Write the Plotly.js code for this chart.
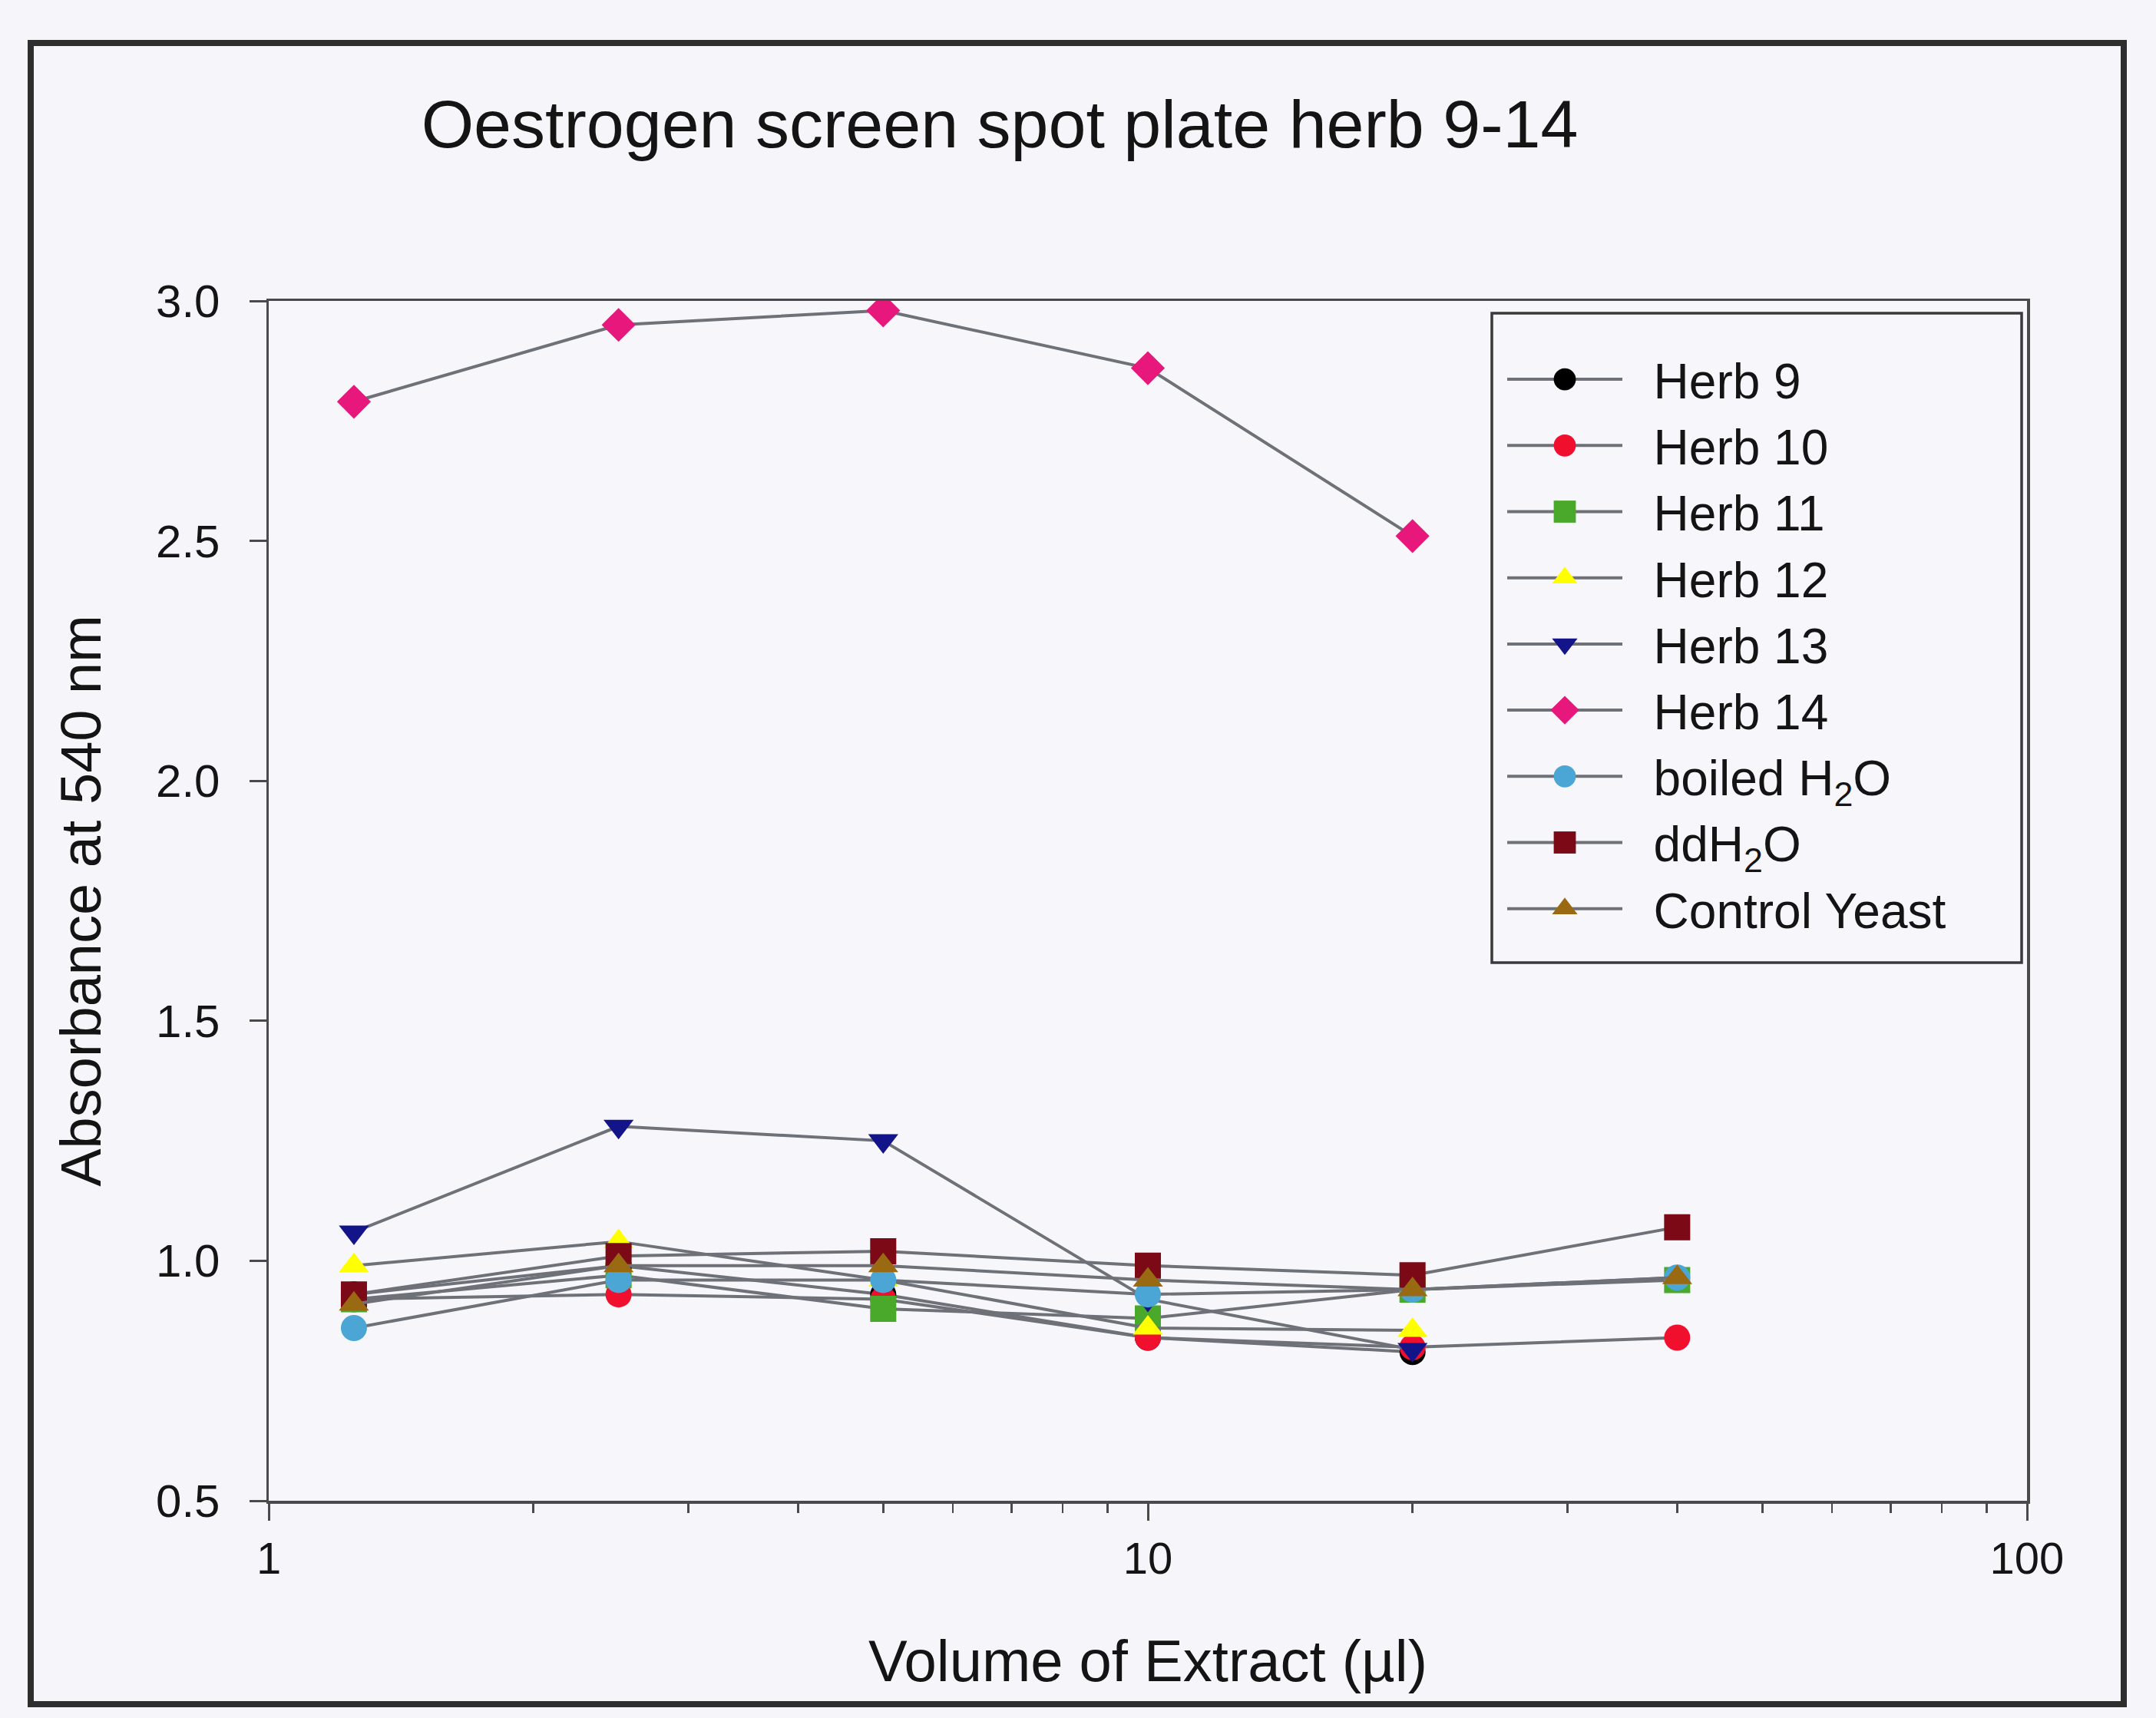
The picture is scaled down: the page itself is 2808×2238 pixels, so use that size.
<!DOCTYPE html>
<html>
<head>
<meta charset="utf-8">
<script src="https://cdn.plot.ly/plotly-3.0.1.min.js"></script>
<style>
html,body{margin:0;padding:0;background:#f6f6fa;}
#chart{width:2808px;height:2238px;}
</style>
</head>
<body>
<div id="chart"></div>
<script>
// Volume of extract (µl)
const volumes = [1.25, 2.5, 5, 10, 20, 40];

const seriesNames = ["Herb 9", "Herb 10", "Herb 11", "Herb 12", "Herb 13", "Herb 14",
                     "boiled H<sub>2</sub>O", "ddH<sub>2</sub>O", "Control Yeast"];

const herb9   = [0.93, 0.99, 0.93, 0.84, 0.81, null];
const herb10  = [0.92, 0.93, 0.92, 0.84, 0.82, 0.84];
const herb11  = [0.92, 0.97, 0.90, 0.88, 0.94, 0.96];
const herb12  = [0.99, 1.04, 0.96, 0.86, 0.855, null];
const herb13  = [1.06, 1.28, 1.25, 0.92, 0.815, null];
const herb14  = [2.79, 2.95, 2.98, 2.86, 2.51, null];
const boiledH2O = [0.86, 0.96, 0.96, 0.93, 0.94, 0.965];
const ddH2O   = [0.93, 1.01, 1.02, 0.99, 0.97, 1.07];
const controlYeast = [0.91, 0.99, 0.99, 0.96, 0.94, 0.965];

const seriesValues = [herb9, herb10, herb11, herb12, herb13, herb14, boiledH2O, ddH2O, controlYeast];

const markerColors = ["#000000", "#f0102e", "#4aa82a", "#ffff00", "#14148a", "#e8177c",
                      "#4ba6d6", "#7c0a16", "#9a6a12"];
const markerSymbols = ["circle", "circle", "square", "triangle-up", "triangle-down", "diamond",
                       "circle", "square", "triangle-up"];

const xTickVals = [1, 10, 100];
const xTickText = ["1", "10", "100"];

const NBSP = "\u00a0\u00a0";

const traces = seriesNames.map((name, i) => ({
  type: "scatter",
  mode: "lines+markers",
  name: NBSP + name,
  x: volumes,
  y: seriesValues[i],
  connectgaps: false,
  line: {color: "#6f7178", width: 4},
  marker: {color: markerColors[i], symbol: markerSymbols[i], size: 34,
           line: {width: 0}}
}));

const L = 350, R = 168, T = 392, B = 283;
const W = 2808, H = 2238;
const pw = W - L - R, ph = H - T - B;
function px2x(p){ return (p - L) / pw; }
function py2y(p){ return (H - B - p) / ph; }

const layout = {
  width: W, height: H,
  margin: {l: L, r: R, t: T, b: B, pad: 0},
  paper_bgcolor: "#f6f6fa",
  plot_bgcolor: "#f7f7fb",
  font: {family: "Liberation Sans, Arial, sans-serif", color: "#141414", size: 58},
  title: {
    text: "Oestrogen screen spot plate herb 9-14",
    font: {size: 88, color: "#141414"},
    x: 1302 / W, xref: "container", xanchor: "center",
    y: 1 - 161 / H, yref: "container", yanchor: "middle"
  },
  xaxis: {
    type: "log",
    range: [0, 2],
    tickvals: xTickVals,
    ticktext: xTickText,
    ticks: "outside",
    ticklen: 22,
    tickwidth: 3,
    tickcolor: "#4a4a4a",
    showline: true,
    linecolor: "#4a4a4a",
    linewidth: 3.5,
    mirror: true,
    showgrid: false,
    zeroline: false,
    tickfont: {size: 58},
    minor: {ticks: "outside", ticklen: 12, tickwidth: 2.5, tickcolor: "#4a4a4a",
            dtick: "D1", showgrid: false},
    automargin: false,
    title: {text: "Volume of Extract (µl)", font: {size: 76}, standoff: 76}
  },
  yaxis: {
    range: [0.5, 3.0],
    dtick: 0.5,
    tick0: 0.5,
    tickformat: ".1f",
    ticks: "outside",
    ticklen: 22,
    tickwidth: 3,
    tickcolor: "#4a4a4a",
    showline: true,
    linecolor: "#4a4a4a",
    linewidth: 3.5,
    mirror: true,
    showgrid: false,
    zeroline: false,
    tickfont: {size: 60},
    ticklabelstandoff: 26,
    automargin: false,
    title: {text: "Absorbance at 540 nm", font: {size: 74}, standoff: 48}
  },
  legend: {
    x: px2x(1958), y: py2y(446),
    xanchor: "left", yanchor: "top",
    bgcolor: "rgba(0,0,0,0)",
    borderwidth: 0,
    font: {size: 64, color: "#141414"},
    itemwidth: 150,
    tracegroupgap: 0
  },
  showlegend: true,
  shapes: [
    {type: "rect", xref: "paper", yref: "paper",
     x0: px2x(1943), x1: px2x(2633), y0: py2y(1254), y1: py2y(408),
     line: {color: "#3a3a3a", width: 3.5}, fillcolor: "rgba(0,0,0,0)", layer: "above"},
    {type: "rect", xref: "paper", yref: "paper",
     x0: px2x(40), x1: px2x(2766), y0: py2y(2220), y1: py2y(56),
     line: {color: "#2e2e2e", width: 8}, fillcolor: "rgba(0,0,0,0)", layer: "above"}
  ]
};

function enlargeLegendMarkers(){
  document.querySelectorAll("#chart .legend .legendpoints path.scatterpts").forEach(p => {
    const t = p.getAttribute("transform") || "";
    if (!/scale/.test(t)) p.setAttribute("transform", t + " scale(1.8)");
  });
}

Plotly.newPlot("chart", traces, layout, {staticPlot: true, displayModeBar: false})
  .then(enlargeLegendMarkers);
</script>
</body>
</html>
